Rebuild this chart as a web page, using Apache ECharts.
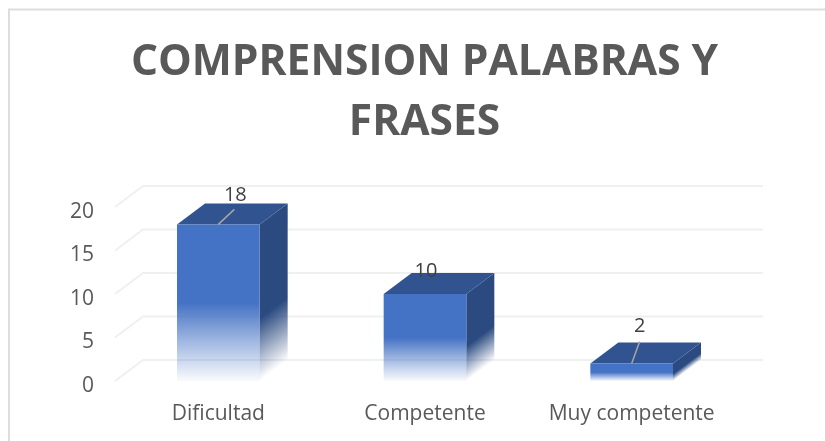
<!DOCTYPE html>
<html>
<head>
<meta charset="utf-8">
<style>html,body{margin:0;padding:0;background:#fff}#c{width:825px;height:441px}</style>
<script src="https://cdn.jsdelivr.net/npm/echarts@6/dist/echarts.min.js"></script>
</head>
<body>
<div id="c"></div>
<script>
const categories = ['Dificultad', 'Competente', 'Muy competente'];
const values = [18, 10, 2];
const tickValues = [0, 5, 10, 15, 20];
const titleLines = ['COMPRENSION PALABRAS Y', 'FRASES'];

const DEPTH_X = 28, DEPTH_Y = -21;
const BAR_RATIO = 0.4;
const BLUE = '#4472C4', SIDE = '#2A4A80', TOP = '#315490', FONT = '"Open Sans", sans-serif';
const LABEL_STYLE = [
  { dx: 17, dy: -29, leader: [[0, 0], [16, -15]] },
  { dx: 1, dy: -23, leader: null },
  { dx: 8, dy: -37, leader: [[0, 0], [8, -22]] }
];

function gridItem(params, api) {
  const v = api.value(0);
  const p = api.coord([0, v]);
  const left = params.coordSys.x, right = left + params.coordSys.width;
  return {
    type: 'polyline',
    shape: { points: [[left, p[1]], [left + DEPTH_X, p[1] + DEPTH_Y], [right + DEPTH_X, p[1] + DEPTH_Y]] },
    style: { stroke: '#F0F0F0', lineWidth: 2, fill: null },
    silent: true
  };
}

function barItem(params, api) {
  const idx = api.value(0), val = api.value(1);
  const top = api.coord([idx, val]), base = api.coord([idx, 0]);
  const w = api.size([1, 0])[0] * BAR_RATIO;
  const xl = top[0] - w / 2, xr = top[0] + w / 2, yt = top[1], yb = base[1], h = yb - yt;
  const front = new echarts.graphic.LinearGradient(0, 0, 0, 1, [
    { offset: 0, color: BLUE }, { offset: 0.5, color: BLUE },
    { offset: 0.75, color: 'rgba(68,114,196,0.5)' }, { offset: 1, color: 'rgba(68,114,196,0.03)' }
  ]);
  const side = new echarts.graphic.LinearGradient(xr, yt, xr + 0.48 * h, yt + 0.64 * h, [
    { offset: 0, color: SIDE }, { offset: 0.6, color: SIDE }, { offset: 1, color: 'rgba(42,74,128,0)' }
  ], true);
  const l = LABEL_STYLE[idx];
  const children = [
    { type: 'polygon', shape: { points: [[xr, yt], [xr + DEPTH_X, yt + DEPTH_Y], [xr + DEPTH_X, yb + DEPTH_Y], [xr, yb]] }, style: { fill: side } },
    { type: 'polygon', shape: { points: [[xl, yt], [xl + DEPTH_X, yt + DEPTH_Y], [xr + DEPTH_X, yt + DEPTH_Y], [xr, yt]] }, style: { fill: TOP } },
    { type: 'rect', shape: { x: xl, y: yt, width: w, height: h }, style: { fill: front } }
  ];
  if (l.leader) {
    children.push({
      type: 'polyline',
      shape: { points: l.leader.map(q => [top[0] + q[0], yt + q[1]]) },
      style: { stroke: '#A6A6A6', lineWidth: 1.5, fill: null }
    });
  }
  children.push({
    type: 'text',
    style: { x: top[0] + l.dx, y: yt + l.dy, text: String(val), fill: '#404040', font: '20px ' + FONT, align: 'center', verticalAlign: 'middle' }
  });
  return { type: 'group', children };
}

const chart = echarts.init(document.getElementById('c'), null, { renderer: 'canvas' });
chart.setOption({
  animation: false,
  backgroundColor: '#fff',
  title: {
    text: titleLines.join('\n'),
    left: 419.5, top: 28, textAlign: 'center',
    textStyle: { fontFamily: FONT, fontWeight: 'bold', fontSize: 42.5, lineHeight: 60, color: '#595959' }
  },
  graphic: [{
    type: 'polyline', silent: true, z: 0,
    shape: { points: [[9, 441], [9, 9.5], [825, 9.5]] },
    style: { fill: null, stroke: '#DDDDDD', lineWidth: 2 }
  }],
  grid: { left: 115, right: 90, top: 207, bottom: 60 },
  xAxis: {
    type: 'category', data: categories,
    axisLine: { show: false }, axisTick: { show: false }, splitLine: { show: false },
    axisLabel: { interval: 0, hideOverlap: false, fontFamily: FONT, fontSize: 21, color: '#595959', margin: 23 }
  },
  yAxis: {
    type: 'value', min: 0, max: 20, interval: 5,
    axisLine: { show: false }, axisTick: { show: false }, splitLine: { show: false },
    axisLabel: { fontFamily: FONT, fontSize: 21, color: '#595959', margin: 21, verticalAlign: 'top', lineHeight: 10 }
  },
  series: [
    { type: 'custom', coordinateSystem: 'cartesian2d', data: tickValues.map(v => [v]), renderItem: gridItem, encode: { x: -1, y: 0 }, z: 1, silent: true },
    { type: 'custom', coordinateSystem: 'cartesian2d', data: values.map((v, i) => [i, v]), renderItem: barItem, encode: { x: 0, y: 1 }, z: 2, silent: true }
  ]
});
</script>
</body>
</html>
